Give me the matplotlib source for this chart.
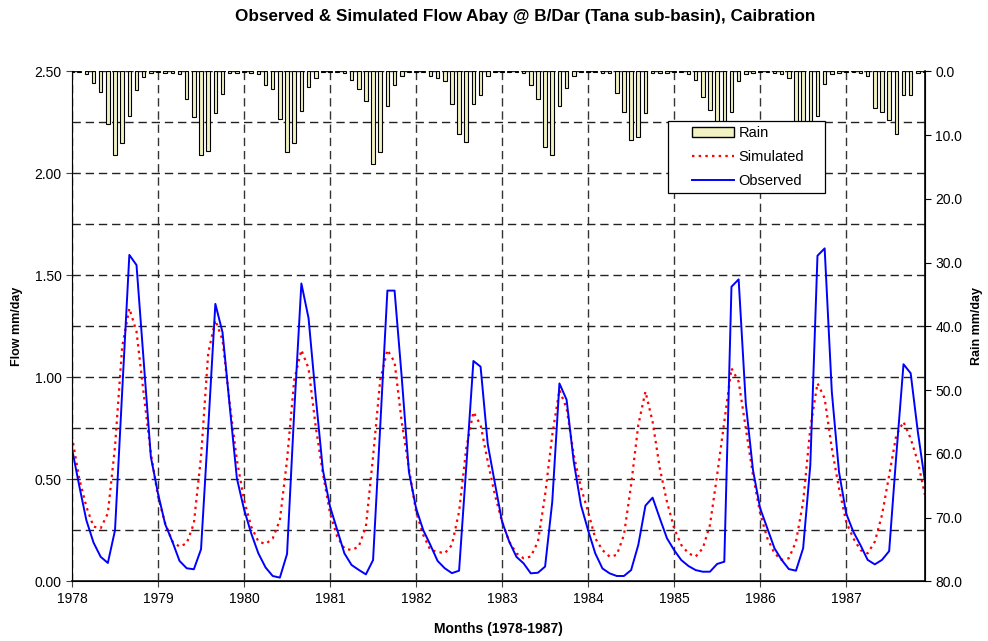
import numpy as np
import matplotlib
matplotlib.use('Agg')
from matplotlib import pyplot as plt
from matplotlib.patches import Patch, Rectangle
from matplotlib.lines import Line2D

plt.rcParams['font.family'] = ['Liberation Sans', 'DejaVu Sans']

# Monthly data, Jan 1978 - Dec 1987
years = ['1978', '1979', '1980', '1981', '1982', '1983', '1984', '1985', '1986', '1987']

rain = [0.1, 0.1, 0.4, 1.9, 3.3, 8.3, 13.1, 11.2, 7.0, 2.9, 0.9, 0.2,
        0.1, 0.2, 0.2, 0.5, 4.3, 7.1, 13.1, 12.5, 6.6, 3.5, 0.3, 0.2,
        0.1, 0.2, 0.5, 2.2, 2.8, 7.5, 12.7, 11.2, 6.3, 2.5, 1.0, 0.1,
        0.1, 0.1, 0.3, 1.3, 2.8, 4.7, 14.5, 12.7, 5.4, 2.2, 0.7, 0.1,
        0.1, 0.1, 0.7, 1.0, 1.6, 5.1, 9.9, 11.1, 5.1, 3.7, 0.7, 0.1,
        0.1, 0.1, 0.1, 0.3, 2.1, 4.3, 11.8, 13.1, 5.4, 2.6, 0.7, 0.1,
        0.1, 0.1, 0.2, 0.3, 3.4, 6.4, 10.7, 10.3, 6.6, 0.3, 0.3, 0.3,
        0.1, 0.1, 0.4, 1.4, 4.0, 6.0, 9.5, 10.5, 6.4, 1.5, 0.4, 0.2,
        0.1, 0.1, 0.3, 0.5, 1.0, 9.0, 11.0, 10.0, 7.0, 2.0, 0.4, 0.2,
        0.1, 0.1, 0.3, 0.8, 5.8, 6.4, 7.7, 9.8, 3.7, 3.7, 0.3, 0.1]

observed = [0.65, 0.47, 0.30, 0.19, 0.12, 0.09, 0.25, 0.93, 1.60, 1.55, 1.08, 0.61,
            0.43, 0.28, 0.195, 0.10, 0.064, 0.059, 0.157, 0.75, 1.36, 1.22, 0.86, 0.505,
            0.353, 0.235, 0.137, 0.068, 0.026, 0.018, 0.134, 0.83, 1.46, 1.29, 0.905, 0.546,
            0.366, 0.252, 0.137, 0.08, 0.056, 0.034, 0.104, 0.76, 1.425, 1.425, 1.0, 0.537,
            0.358, 0.251, 0.178, 0.10, 0.064, 0.04, 0.052, 0.56, 1.08, 1.052, 0.672, 0.48,
            0.292, 0.194, 0.12, 0.088, 0.039, 0.042, 0.072, 0.39, 0.97, 0.89, 0.586, 0.374,
            0.25, 0.137, 0.063, 0.039, 0.026, 0.026, 0.055, 0.178, 0.371, 0.41, 0.309, 0.211,
            0.153, 0.104, 0.075, 0.055, 0.047, 0.047, 0.085, 0.096, 1.444, 1.48, 0.872, 0.546,
            0.358, 0.26, 0.162, 0.105, 0.06, 0.052, 0.162, 0.57, 1.596, 1.632, 0.929, 0.537,
            0.333, 0.243, 0.177, 0.105, 0.083, 0.105, 0.148, 0.62, 1.064, 1.02, 0.733, 0.488]

simulated = [0.71, 0.505, 0.366, 0.268, 0.26, 0.333, 0.66, 1.15, 1.338, 1.224, 0.92, 0.627,
             0.415, 0.284, 0.195, 0.17, 0.186, 0.284, 0.611, 1.118, 1.28, 1.183, 0.872, 0.595,
             0.398, 0.268, 0.195, 0.183, 0.21, 0.30, 0.595, 0.987, 1.134, 1.044, 0.758, 0.529,
             0.333, 0.219, 0.161, 0.153, 0.17, 0.268, 0.611, 0.987, 1.134, 1.075, 0.78, 0.554,
             0.341, 0.227, 0.153, 0.145, 0.137, 0.178, 0.341, 0.652, 0.83, 0.766, 0.586, 0.423,
             0.292, 0.194, 0.137, 0.113, 0.121, 0.194, 0.423, 0.717, 0.938, 0.848, 0.619, 0.46,
             0.341, 0.211, 0.153, 0.121, 0.129, 0.227, 0.472, 0.766, 0.93, 0.782, 0.554, 0.39,
             0.26, 0.178, 0.137, 0.121, 0.162, 0.276, 0.52, 0.782, 1.044, 0.979, 0.75, 0.52,
             0.333, 0.211, 0.137, 0.105, 0.113, 0.194, 0.39, 0.75, 0.971, 0.897, 0.652, 0.456,
             0.292, 0.211, 0.153, 0.137, 0.194, 0.325, 0.52, 0.717, 0.782, 0.70, 0.586, 0.423]

months = np.arange(len(observed))
dash = (0, (6, 3.5))
bar_col = '#F2F2C2'

fig = plt.figure(figsize=(9.88, 6.41), dpi=100)
ax = fig.add_axes([72/988, 1-581.3/641, 853/988, 510/641])

# Flow axis
ax.plot(months, simulated, color='red', lw=1.6, linestyle=(0, (1.1, 1.9)), zorder=3)
ax.plot(months, observed, color='blue', lw=1.4, zorder=4)
ax.set_xlim(0, len(months)-1)
ax.set_ylim(0, 2.5)
ax.set_yticks(np.arange(0, 2.51, 0.5))
ax.set_yticklabels(['%.2f' % v for v in np.arange(0, 2.51, 0.5)])
ax.set_yticks(np.arange(0.25, 2.5, 0.5), minor=True)
ax.set_xticks(np.arange(0, len(months), 12))
ax.set_xticklabels(years)
ax.tick_params(axis='both', which='major', labelsize=10, length=4, direction='out', color='#444444')
ax.tick_params(axis='y', which='minor', length=0)
ax.grid(True, which='both', axis='y', color='#222222', lw=1, linestyle=dash)
ax.grid(True, which='major', axis='x', color='#333333', lw=1, linestyle=dash)
ax.spines['top'].set_visible(False)
ax.spines['left'].set_color('#777777')
ax.spines['bottom'].set_color('#333333')
ax.spines['bottom'].set_linewidth(1.4)
ax.set_ylabel('Flow mm/day', fontsize=9, fontweight='bold', labelpad=8)
ax.set_xlabel('Months (1978-1987)', fontsize=10, fontweight='bold', labelpad=12)

# Rain axis (inverted), bars hang from top
ax2 = ax.twinx()
ax2.bar(months, rain, width=0.5, color=bar_col, edgecolor='black', lw=0.8, zorder=2)
ax2.set_ylim(80, 0)
ax2.set_yticks(np.arange(0, 81, 10))
ax2.set_yticklabels(['%.1f' % v for v in np.arange(0, 81, 10)])
ax2.tick_params(axis='y', labelsize=10, length=4, direction='out')
ax2.spines['top'].set_visible(False)
ax2.spines['right'].set_linewidth(1.2)
ax2.set_ylabel('Rain mm/day', fontsize=9, fontweight='bold', labelpad=6)

# legend box (opaque, covers bars behind it)
frame = Rectangle((668/988, 1-193/641), 157/988, 72/641, transform=fig.transFigure,
                  facecolor='white', edgecolor='black', lw=0.9, zorder=8)
ax2.add_artist(frame)
handles = [Patch(facecolor=bar_col, edgecolor='black', lw=1.0),
           Line2D([], [], color='red', lw=1.6, linestyle=(0, (1.1, 1.9))),
           Line2D([], [], color='blue', lw=1.4)]
leg = ax2.legend(handles, ['Rain', 'Simulated', 'Observed'], loc='upper left',
                 bbox_to_anchor=(692/988, 1-126/641), bbox_transform=fig.transFigure,
                 fontsize=10.5, frameon=False, handlelength=2.9, handleheight=0.65,
                 borderpad=0, labelspacing=0.68, handletextpad=0.3, borderaxespad=0)
leg.set_zorder(10)

fig.text(525/988, 1-17/641, 'Observed & Simulated Flow Abay @ B/Dar (Tana sub-basin), Caibration',
         ha='center', va='center', fontsize=12.3, fontweight='bold')

fig.savefig('out.png', dpi=100)
